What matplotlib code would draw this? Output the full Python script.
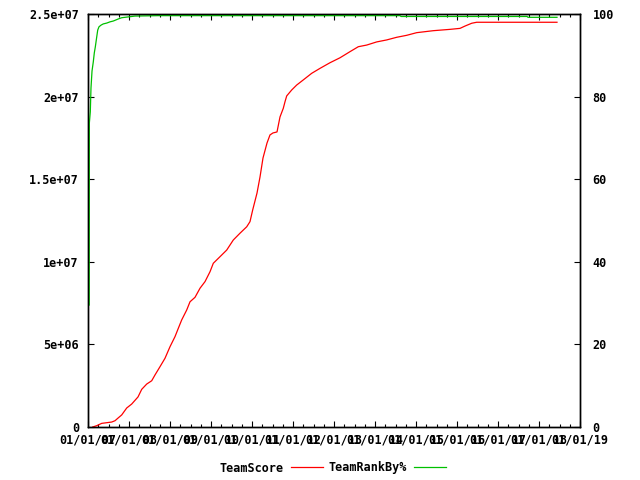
import matplotlib
matplotlib.use("Agg")
import matplotlib.pyplot as plt
from matplotlib.ticker import MultipleLocator

# ============================
# Daten
# ============================
score_years = [2007.115, 2007.212, 2007.334, 2007.578, 2007.659, 2007.732, 2007.822,
               2007.944, 2008.066, 2008.220, 2008.310, 2008.432, 2008.554, 2008.634,
               2008.756, 2008.878, 2009.000, 2009.122, 2009.202, 2009.285, 2009.407,
               2009.488, 2009.610, 2009.732, 2009.854, 2009.976, 2010.056, 2010.220,
               2010.383, 2010.544, 2010.707, 2010.871, 2010.951, 2011.017, 2011.122,
               2011.195, 2011.268, 2011.366, 2011.439, 2011.512, 2011.610, 2011.683,
               2011.763, 2011.805, 2011.846, 2011.968, 2012.090, 2012.251, 2012.456,
               2012.659, 2012.902, 2013.146, 2013.390, 2013.593, 2013.798, 2014.041,
               2014.285, 2014.529, 2014.773, 2015.017, 2015.422, 2015.829, 2016.073,
               2016.195, 2016.359, 2016.480, 2018.439]
score_mio = [0.00, 0.08, 0.22, 0.30, 0.38, 0.54, 0.73,
             1.15, 1.39, 1.82, 2.28, 2.60, 2.80, 3.15,
             3.65, 4.16, 4.86, 5.47, 5.97, 6.48, 7.08,
             7.58, 7.85, 8.40, 8.80, 9.40, 9.91, 10.31,
             10.71, 11.32, 11.73, 12.12, 12.43, 13.14, 14.16,
             15.13, 16.28, 17.19, 17.68, 17.80, 17.86, 18.77,
             19.29, 19.69, 20.04, 20.40, 20.70, 21.01, 21.41,
             21.71, 22.05, 22.35, 22.72, 23.02, 23.12, 23.31,
             23.43, 23.59, 23.71, 23.87, 23.99, 24.07, 24.13,
             24.27, 24.44, 24.50, 24.50]
team_score = [v * 1e6 for v in score_mio]

rank_years = [2007.000, 2007.001, 2007.030, 2007.033, 2007.056, 2007.073, 2007.098,
              2007.129, 2007.154, 2007.178, 2007.212, 2007.237, 2007.268, 2007.317,
              2007.373, 2007.456, 2007.537, 2007.617, 2007.739, 2007.822, 2007.983,
              2008.146, 2008.707, 2014.610, 2014.634, 2017.707, 2017.732, 2018.439]
rank_pct = [0.0, 29.5, 29.5, 73.6, 76.3, 82.1, 86.2,
            88.4, 90.6, 92.0, 94.4, 96.1, 96.9, 97.3,
            97.6, 97.8, 98.1, 98.3, 98.8, 99.1, 99.3,
            99.5, 99.6, 99.6, 99.4, 99.4, 99.2, 99.2]

x_ticks = list(range(2007, 2020))
x_labels = [f"01/01/{y % 100:02d}" for y in x_ticks]
y_ticks = [0, 5e6, 1e7, 1.5e7, 2e7, 2.5e7]
y_labels = ["0", "5e+06", "1e+07", "1.5e+07", "2e+07", "2.5e+07"]
y2_ticks = [0, 20, 40, 60, 80, 100]

# ============================
# Plot
# ============================
plt.rcParams["font.family"] = "DejaVu Sans Mono"
plt.rcParams["font.weight"] = "bold"
plt.rcParams["font.size"] = 8.5

fig = plt.figure(figsize=(6.4, 4.8), dpi=100)
ax = fig.add_axes([88 / 640, 1 - 427 / 480, (580 - 88) / 640, (427 - 14) / 480])
ax2 = ax.twinx()

l1, = ax.plot(score_years, team_score, color="#ff0000", lw=0.9, label="TeamScore")
l2, = ax2.plot(rank_years, rank_pct, color="#00c000", lw=0.9, label="TeamRankBy%")

ax.set_xlim(2007, 2019)
ax.set_ylim(0, 2.5e7)
ax2.set_ylim(0, 100)

ax.set_xticks(x_ticks, x_labels)
ax.xaxis.set_minor_locator(MultipleLocator(0.25))
ax.set_yticks(y_ticks, y_labels)
ax2.set_yticks(y2_ticks, [str(v) for v in y2_ticks])

ax.tick_params(axis="x", which="both", direction="in", top=True, bottom=True, pad=5)
ax.tick_params(axis="x", which="major", length=4.3, width=0.8)
ax.tick_params(axis="x", which="minor", length=2.2, width=0.8)
ax.tick_params(axis="y", which="major", direction="in", left=True, right=False,
               length=4.3, width=0.8, pad=6.5)
ax2.tick_params(axis="y", which="major", direction="in", right=True, left=False,
                length=4.3, width=0.8, pad=9)

for a in (ax, ax2):
    for s in a.spines.values():
        s.set_linewidth(1.0)
        s.set_color("black")

fig.legend(handles=[l1, l2], loc="center", bbox_to_anchor=(0.52, 1 - 468 / 480),
           ncol=2, markerfirst=False, frameon=False, handlelength=2.7,
           handletextpad=0.6, columnspacing=0.5)

fig.savefig("out.png", dpi=100)
